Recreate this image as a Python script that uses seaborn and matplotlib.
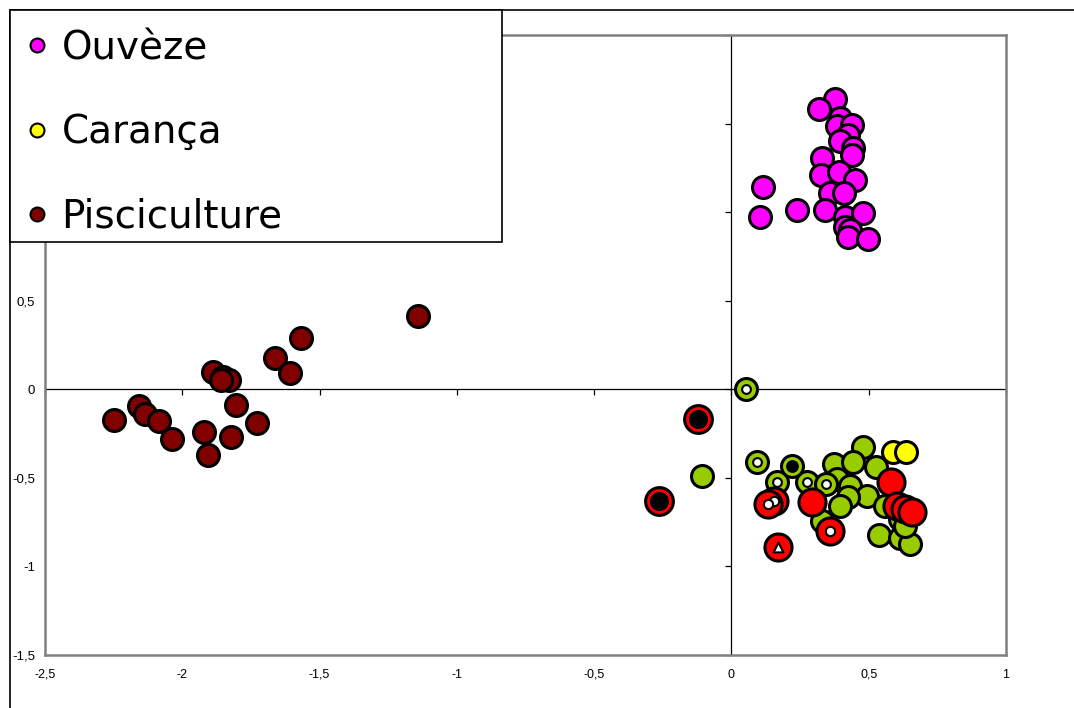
import matplotlib
matplotlib.use("Agg")
import matplotlib.pyplot as plt
from matplotlib.lines import Line2D
from matplotlib.patches import Rectangle
from matplotlib.ticker import FuncFormatter, MultipleLocator
import seaborn as sns

# Pisciculture
pisci_x = [-2.248, -2.157, -2.135, -2.084, -2.036, -1.920, -1.905, -1.887, -1.851, -1.829,
           -1.858, -1.804, -1.822, -1.727, -1.662, -1.607, -1.567, -1.141]
pisci_y = [-0.174, -0.096, -0.140, -0.180, -0.281, -0.242, -0.371, 0.096, 0.068, 0.051,
           0.051, -0.090, -0.270, -0.191, 0.174, 0.090, 0.292, 0.416]

# Ouvèze
ouv_x = [0.377, 0.319, 0.397, 0.385, 0.439, 0.425, 0.397, 0.443, 0.439, 0.330, 0.326, 0.392,
         0.450, 0.359, 0.410, 0.115, 0.104, 0.239, 0.341, 0.414, 0.479, 0.414, 0.432, 0.425, 0.498]
ouv_y = [1.640, 1.584, 1.534, 1.489, 1.494, 1.433, 1.404, 1.360, 1.320, 1.303, 1.208, 1.225,
         1.180, 1.107, 1.107, 1.140, 0.972, 1.011, 1.011, 0.972, 0.994, 0.916, 0.899, 0.860, 0.848]

# Carança
car_x = [0.588, 0.636]
car_y = [-0.354, -0.354]

# other groups (not in legend)
green_x = [-0.107, 0.480, 0.374, 0.443, 0.527, 0.385, 0.432, 0.494, 0.425, 0.395, 0.330,
           0.537, 0.614, 0.650, 0.559, 0.614, 0.632]
green_y = [-0.489, -0.326, -0.421, -0.410, -0.438, -0.506, -0.545, -0.601, -0.607, -0.657,
           -0.742, -0.820, -0.837, -0.876, -0.657, -0.730, -0.770]
green_wdot_x = [0.052, 0.093, 0.166, 0.275, 0.344]
green_wdot_y = [0.0, -0.410, -0.522, -0.522, -0.534]
green_bdot_x = [0.221]
green_bdot_y = [-0.433]
red_x = [0.581, 0.294, 0.603, 0.632, 0.657]
red_y = [-0.522, -0.635, -0.657, -0.674, -0.691]
red_wdot_x = [0.155, 0.133, 0.359]
red_wdot_y = [-0.629, -0.646, -0.798]
red_tri_x = [0.170]
red_tri_y = [-0.888]
red_bdot_x = [-0.120, -0.264]
red_bdot_y = [-0.169, -0.629]

legend_labels = ["Ouvèze", "Carança", "Pisciculture"]
legend_colors = ["#FF00FF", "#FFFF00", "#800000"]

sns.set_style("white")
plt.rcParams["font.family"] = ["Liberation Sans", "DejaVu Sans"]
plt.rcParams["text.color"] = "black"
plt.rcParams["xtick.labelcolor"] = "black"
plt.rcParams["ytick.labelcolor"] = "black"

W, H = 1074, 708
fig = plt.figure(figsize=(W / 100, H / 100), dpi=100)
pos = [45 / W, 1 - 655 / H, (1006 - 45) / W, (655 - 35) / H]

# background axes with the zero lines and their ticks
axz = fig.add_axes(pos)
axz.set_xlim(-2.5, 1)
axz.set_ylim(-1.5, 2)
for s in ["top", "right"]:
    axz.spines[s].set_visible(False)
axz.spines["left"].set_position(("data", 0))
axz.spines["bottom"].set_position(("data", 0))
for s in ["left", "bottom"]:
    axz.spines[s].set_color("black")
    axz.spines[s].set_linewidth(0.9)
axz.xaxis.set_major_locator(MultipleLocator(0.5))
axz.yaxis.set_major_locator(MultipleLocator(0.5))
axz.tick_params(direction="out", length=4, width=0.9, color="black",
                labelbottom=False, labelleft=False, bottom=True, left=True)
axz.set_zorder(0)

ax = fig.add_axes(pos)
ax.set_zorder(1)
ax.patch.set_alpha(0)
ax.set_xlim(-2.5, 1)
ax.set_ylim(-1.5, 2)
for s in ax.spines.values():
    s.set_color("#808080")
    s.set_linewidth(1.8)
ax.xaxis.set_major_locator(MultipleLocator(0.5))
ax.yaxis.set_major_locator(MultipleLocator(0.5))
fmt = FuncFormatter(lambda v, p: f"{v:g}".replace(".", ","))
ax.xaxis.set_major_formatter(fmt)
ax.yaxis.set_major_formatter(fmt)
ax.tick_params(length=0, labelcolor="black")
ax.tick_params(axis="x", pad=10, labelsize=9)
ax.tick_params(axis="y", pad=7, labelsize=9.5)

ew = 2.2
base = 250
sns.scatterplot(x=pisci_x, y=pisci_y, ax=ax, color="#800000", s=base, edgecolor="black",
                linewidth=ew, legend=False, zorder=3)
sns.scatterplot(x=ouv_x, y=ouv_y, ax=ax, color="#FF00FF", s=base, edgecolor="black",
                linewidth=ew, legend=False, zorder=3)
sns.scatterplot(x=green_x, y=green_y, ax=ax, color="#99CC00", s=base, edgecolor="black",
                linewidth=ew, legend=False, zorder=3)
sns.scatterplot(x=car_x, y=car_y, ax=ax, color="#FFFF00", s=base, edgecolor="black",
                linewidth=ew, legend=False, zorder=3)
sns.scatterplot(x=green_wdot_x, y=green_wdot_y, ax=ax, color="#99CC00", s=base, edgecolor="black",
                linewidth=ew, legend=False, zorder=4)
sns.scatterplot(x=green_wdot_x, y=green_wdot_y, ax=ax, color="white", s=40, edgecolor="black",
                linewidth=1.5, legend=False, zorder=4.1)
sns.scatterplot(x=green_bdot_x, y=green_bdot_y, ax=ax, color="#99CC00", s=base, edgecolor="black",
                linewidth=ew, legend=False, zorder=4)
sns.scatterplot(x=green_bdot_x, y=green_bdot_y, ax=ax, color="black", s=85, edgecolor="black",
                linewidth=0, legend=False, zorder=4.1)
sns.scatterplot(x=red_wdot_x, y=red_wdot_y, ax=ax, color="#FF0000", s=380, edgecolor="black",
                linewidth=ew, legend=False, zorder=5)
sns.scatterplot(x=red_wdot_x, y=red_wdot_y, ax=ax, color="white", s=45, edgecolor="black",
                linewidth=1.5, legend=False, zorder=5.1)
sns.scatterplot(x=red_tri_x, y=red_tri_y, ax=ax, color="#FF0000", s=380, edgecolor="black",
                linewidth=ew, legend=False, zorder=5)
sns.scatterplot(x=red_tri_x, y=red_tri_y, ax=ax, color="white", s=50, marker="^", edgecolor="black",
                linewidth=1.5, legend=False, zorder=5.1)
sns.scatterplot(x=red_x, y=red_y, ax=ax, color="#FF0000", s=380, edgecolor="black",
                linewidth=ew, legend=False, zorder=6)
sns.scatterplot(x=red_bdot_x, y=red_bdot_y, ax=ax, color="#FF0000", s=400, edgecolor="black",
                linewidth=ew, legend=False, zorder=5)
sns.scatterplot(x=red_bdot_x, y=red_bdot_y, ax=ax, color="black", s=190, edgecolor="black",
                linewidth=0, legend=False, zorder=5.1)
ax.set_xlabel("")
ax.set_ylabel("")

# outer chart frame
fig.patches.append(Rectangle((10 / W, -0.2), 1.5, 1 - 10 / H + 0.2, transform=fig.transFigure,
                             fill=False, edgecolor="black", linewidth=1.2, zorder=4))
# legend box
fig.patches.append(Rectangle((10 / W, 1 - 242 / H), 492 / W, 232 / H, transform=fig.transFigure,
                             facecolor="white", edgecolor="black", linewidth=1.2, zorder=5))
handles = [Line2D([], [], marker="o", linestyle="", markersize=10, markerfacecolor=c,
                  markeredgecolor="black", markeredgewidth=1.5) for c in legend_colors]
leg = fig.legend(handles, legend_labels, loc="upper left", bbox_to_anchor=(18 / W, 1 - 29 / H),
                 frameon=False, prop={"family": ["DejaVu Sans"], "size": 28},
                 labelspacing=1.19, handletextpad=0.12, handlelength=1.0,
                 borderpad=0.0, borderaxespad=0.0, labelcolor="black")
leg.set_zorder(6)

fig.savefig("out.png", dpi=100)
